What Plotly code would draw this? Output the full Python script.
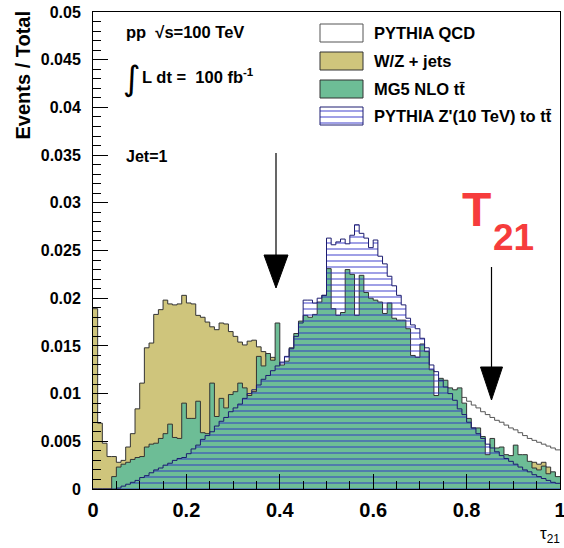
import plotly.graph_objects as go

# ---------------- data ----------------
# 100 bins of tau21 on [0, 1]; values are Events/Total in units of 1e-3
n_bins = 100
bin_edges = [i / n_bins for i in range(n_bins + 1)]
scale = 1e-3

wz_jets = [18.9, 6.9, 4.8, 3.4, 3.4, 2.8, 3.0, 4.4, 5.8, 8.4,
           11.1, 14.8, 15.3, 18.3, 18.8, 19.8, 19.4, 19.3, 19.4, 20.3,
           19.5, 19.4, 18.2, 18.0, 17.5, 17.0, 16.7, 17.4, 17.3, 16.5,
           16.0, 15.4, 15.1, 15.5, 15.6, 14.9, 14.4, 13.9, 13.8, 13.2,
           12.6, 12.5, 12.0, 11.8, 11.3, 11.1, 10.7, 10.5, 10.3, 9.9,
           9.6, 9.5, 9.1, 8.9, 8.7, 8.3, 8.1, 7.9, 7.6, 7.4,
           7.2, 7.1, 6.8, 6.6, 6.5, 6.2, 6.0, 5.9, 5.6, 5.5,
           5.3, 5.2, 5.0, 4.8, 4.7, 4.5, 4.4, 4.2, 4.1, 4.0,
           3.9, 3.8, 3.6, 3.5, 3.4, 3.3, 3.2, 3.1, 3.0, 2.9,
           2.8, 2.7, 2.6, 2.7, 2.8, 2.6, 2.8, 2.3, 1.7, 1.2]

mg5_ttbar = [0, 0, 0, 0, 1.3, 2.3, 2.6, 2.8, 3.1, 3.3,
             3.4, 4.4, 4.7, 4.8, 5.3, 5.8, 6.8, 5.4, 5.3, 9.0,
             7.4, 7.4, 9.2, 5.9, 5.8, 11.1, 7.6, 9.5, 8.5, 9.9,
             10.2, 11.1, 10.6, 9.8, 10.2, 13.9, 12.9, 14.2, 13.5, 17.4,
             13.0, 13.4, 14.8, 16.3, 17.6, 18.2, 18.0, 18.3, 19.6, 20.3,
             23.1, 18.9, 18.2, 18.5, 23.0, 22.5, 18.2, 22.4, 20.6, 20.0,
             19.8, 19.6, 18.4, 19.5, 17.9, 17.7, 17.7, 16.8, 14.0, 13.8,
             15.2, 14.4, 12.5, 9.8, 11.6, 11.4, 10.6, 10.4, 10.6, 9.0,
             7.4, 6.4, 6.4, 5.5, 3.6, 5.3, 4.3, 4.4, 3.6, 3.5,
             4.6, 3.6, 3.6, 2.9, 2.2, 2.0, 2.4, 1.6, 1.8, 1.3]

zprime_ttbar = [0, 0, 0, 0, 0, 0.1, 0.3, 0.5, 0.7, 0.9,
                1.2, 1.4, 1.7, 2.0, 2.2, 2.5, 2.7, 3.0, 3.2, 3.3,
                3.7, 4.2, 4.6, 5.2, 5.6, 6.0, 6.6, 7.1, 7.5, 8.1,
                8.5, 8.9, 9.5, 10.0, 10.4, 10.9, 11.5, 11.9, 12.4, 12.9,
                13.3, 13.9, 14.7, 16.0, 17.4, 19.8, 19.8, 19.5, 20.0, 20.3,
                26.3, 25.6, 25.9, 26.2, 25.7, 26.6, 27.7, 26.8, 26.3, 25.3,
                26.1, 24.4, 23.6, 22.3, 21.3, 20.3, 19.3, 17.9, 17.2, 16.8,
                15.8, 14.8, 13.0, 12.3, 11.4, 10.7, 10.0, 9.3, 8.4, 7.8,
                7.0, 6.4, 5.8, 5.3, 4.7, 4.3, 3.9, 3.5, 3.2, 2.9,
                2.6, 2.3, 2.0, 1.8, 1.5, 1.3, 1.1, 0.9, 0.7, 0.6]

qcd_first_bin = 79
pythia_qcd = [9.6, 9.2, 8.8, 8.5, 8.1, 7.8, 7.5, 7.2, 7.0, 6.7,
              6.4, 6.2, 5.9, 5.6, 5.3, 5.1, 4.9, 4.7, 4.5, 4.3, 4.1]

legend_labels = ["PYTHIA QCD", "W/Z + jets", "MG5 NLO tt\u0304", "PYTHIA Z'(10 TeV) to tt\u0304"]

y_tick_vals = [0, 0.005, 0.01, 0.015, 0.02, 0.025, 0.03, 0.035, 0.04, 0.045, 0.05]
y_tick_text = ["0", "0.005", "0.01", "0.015", "0.02", "0.025", "0.03", "0.035", "0.04", "0.045", "0.05"]
x_tick_vals = [0, 0.2, 0.4, 0.6, 0.8, 1.0]
x_tick_text = ["0", "0.2", "0.4", "0.6", "0.8", "1"]

# ---------------- styling ----------------
W, H = 564, 548
L_M, R_M, T_M, B_M = 93, 4, 12, 59
PW, PH = W - L_M - R_M, H - T_M - B_M
FONT = "Liberation Sans"
KHAKI = "#cfc57c"
GREEN = "#6dbd96"
HATCH = "#2b2bc8"


def px(x):
    return (x - L_M) / PW


def py(y):
    return (H - B_M - y) / PH


def dx(x):
    return (x - L_M) / PW


def dy(y):
    return (H - B_M - y) / PH * 0.05


def step(values, first_bin=0):
    xs = bin_edges[first_bin:first_bin + len(values) + 1]
    ys = [v * scale for v in values] + [values[-1] * scale]
    return xs, ys


fig = go.Figure()

x, y = step(pythia_qcd, qcd_first_bin)
fig.add_trace(go.Scatter(x=x, y=y, mode="lines", line=dict(shape="hv", color="#555555", width=1),
                         fill="tozeroy", fillcolor="white", hoverinfo="skip", showlegend=False))
x, y = step(wz_jets)
fig.add_trace(go.Scatter(x=x, y=y, mode="lines", line=dict(shape="hv", color="#333333", width=1),
                         fill="tozeroy", fillcolor=KHAKI, hoverinfo="skip", showlegend=False))
x, y = step(mg5_ttbar)
fig.add_trace(go.Scatter(x=x, y=y, mode="lines", line=dict(shape="hv", color="#333333", width=1),
                         fill="tozeroy", fillcolor=GREEN, hoverinfo="skip", showlegend=False))
x, y = step(zprime_ttbar)
fig.add_trace(go.Scatter(x=x, y=y, mode="lines", line=dict(shape="hv", color="#1c1c70", width=1),
                         fill="tozeroy", fillcolor="rgba(0,0,0,0)",
                         fillpattern=dict(shape="-", fgcolor=HATCH, bgcolor="rgba(0,0,0,0)",
                                          size=6, solidity=0.3),
                         hoverinfo="skip", showlegend=False))

# ---------------- legend (ROOT style) ----------------
box_left, box_right = 320, 363
row_tops = [24, 52, 80, 107]
box_h = 18
styles = [dict(fillcolor="white", line=dict(color="#555555", width=1)),
          dict(fillcolor=KHAKI, line=dict(color="#333333", width=1)),
          dict(fillcolor=GREEN, line=dict(color="#333333", width=1)),
          dict(fillcolor="white", line=dict(color="#1c1c70", width=1),
               fillpattern=dict(shape="-", fgcolor=HATCH, bgcolor="white", size=6, solidity=0.3))]
annotations = []
for label, top, st in zip(legend_labels, row_tops, styles):
    bx = [dx(box_left), dx(box_right), dx(box_right), dx(box_left), dx(box_left)]
    by = [dy(top), dy(top), dy(top + box_h), dy(top + box_h), dy(top)]
    fig.add_trace(go.Scatter(x=bx, y=by, mode="lines", fill="toself", hoverinfo="skip",
                             showlegend=False, **st))
    annotations.append(dict(x=px(372), y=py(top + box_h / 2), xref="paper", yref="paper",
                            text=label, showarrow=False, xanchor="left", yanchor="middle",
                            font=dict(family=FONT, size=16.5, color="black", weight="bold")))

# ---------------- text ----------------
annotations += [
    dict(x=px(124), y=py(32), text="pp  \u221As=100 TeV", xanchor="left", yanchor="middle",
         font=dict(family=FONT, size=16.5, color="black", weight="bold")),
    dict(x=px(121), y=py(78), text="\u222B", xanchor="left", yanchor="middle",
         font=dict(family="DejaVu Sans", size=34, color="black")),
    dict(x=px(140), y=py(76), text="L dt =  100 fb<sup>-1</sup>", xanchor="left", yanchor="middle",
         font=dict(family=FONT, size=16.5, color="black", weight="bold")),
    dict(x=px(124), y=py(156), text="Jet=1", xanchor="left", yanchor="middle",
         font=dict(family=FONT, size=16, color="black", weight="bold")),
    dict(x=px(476), y=py(209), text="\u03A4", xanchor="center", yanchor="middle",
         font=dict(family=FONT, size=48, color="#f63c3c", weight="bold")),
    dict(x=px(513), y=py(237), text="21", xanchor="center", yanchor="middle",
         font=dict(family=FONT, size=37, color="#f63c3c", weight="bold")),
    dict(x=px(538), y=py(535), text="\u03C4<sub>21</sub>", xanchor="left", yanchor="middle",
         font=dict(family=FONT, size=17, color="black")),
    dict(x=px(22), y=py(9), text="Events / Total", textangle=-90, xanchor="center", yanchor="top",
         font=dict(family=FONT, size=20, color="black", weight="bold")),
]
for a in annotations:
    a.setdefault("xref", "paper")
    a.setdefault("yref", "paper")
    a.setdefault("showarrow", False)

# ---------------- arrows ----------------
shapes = []
for ax, y_start, head_top, tip, half in [(276, 153, 255, 288, 12), (491.5, 267, 367, 400, 11)]:
    shapes.append(dict(type="line", xref="paper", yref="paper", x0=px(ax), x1=px(ax),
                       y0=py(y_start), y1=py(head_top + 2), line=dict(color="black", width=1.2)))
    shapes.append(dict(type="path", xref="paper", yref="paper",
                       path=f"M {px(ax - half)} {py(head_top)} L {px(ax + half)} {py(head_top)} "
                            f"L {px(ax)} {py(tip)} Z",
                       fillcolor="black", line=dict(color="black", width=1)))

axis_common = dict(showgrid=False, zeroline=False, showline=True, linecolor="black", linewidth=1,
                   mirror=True, ticks="inside", tickcolor="black", tickwidth=1, ticklen=15,
                   automargin=False, ticklabeloverflow="allow")

fig.update_layout(
    width=W, height=H, margin=dict(l=L_M, r=R_M, t=T_M, b=B_M, pad=0),
    paper_bgcolor="white", plot_bgcolor="white", showlegend=False,
    annotations=annotations, shapes=shapes,
    xaxis=dict(range=[0, 1], tickvals=x_tick_vals, ticktext=x_tick_text,
               tickfont=dict(family=FONT, size=20, color="black", weight="bold"),
               ticklabelstandoff=3,
               minor=dict(dtick=0.05, ticks="inside", ticklen=8, tickcolor="black", showgrid=False),
               **axis_common),
    yaxis=dict(range=[0, 0.05], tickvals=y_tick_vals, ticktext=y_tick_text,
               tickfont=dict(family=FONT, size=16, color="black", weight="bold"),
               ticklabelstandoff=8,
               minor=dict(dtick=0.001, ticks="inside", ticklen=8, tickcolor="black", showgrid=False),
               **axis_common),
)

fig.write_html("out.html")
